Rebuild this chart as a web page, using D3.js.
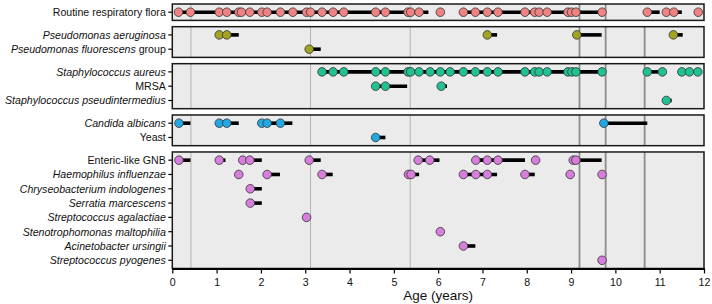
<!DOCTYPE html>
<html>
<head>
<meta charset="utf-8">
<script src="https://cdn.jsdelivr.net/npm/d3@7"></script>
<style>
  body { margin: 0; background: #fff; }
  svg { display: block; font-family: "Liberation Sans", Arial, sans-serif; }
</style>
</head>
<body>
<div id="chart"></div>
<script>
// rows grouped into panels, top to bottom
const panelRows = [
  ["Routine respiratory flora"],
  ["Pseudomonas aeruginosa", "Pseudomonas fluorescens group"],
  ["Staphylococcus aureus", "MRSA", "Staphylococcus pseudintermedius"],
  ["Candida albicans", "Yeast"],
  ["Enteric-like GNB", "Haemophilus influenzae", "Chryseobacterium indologenes",
   "Serratia marcescens", "Streptococcus agalactiae", "Stenotrophomonas maltophilia",
   "Acinetobacter ursingii", "Streptococcus pyogenes"]
];
const plainLabels = ["Routine respiratory flora", "MRSA", "Yeast", "Enteric-like GNB"];
const panelColors = ["#ef8383", "#a3a323", "#21c193", "#22a7e2", "#d77ddb"];

// positive cultures (age in years)
const positives = {
  "Routine respiratory flora": [0.14, 0.41, 1.06, 1.23, 1.50, 1.56, 1.75, 2.02, 2.14, 2.44, 2.72, 3.03, 3.12,
    3.38, 3.63, 3.87, 4.59, 4.81, 5.32, 5.38, 5.57, 6.05, 6.57, 6.84, 7.11, 7.35, 7.96, 8.18, 8.28, 8.46,
    8.93, 9.01, 9.11, 9.70, 10.72, 11.15, 11.32, 11.87],
  "Pseudomonas aeruginosa": [1.06, 1.23, 7.11, 9.13, 11.31],
  "Pseudomonas fluorescens group": [3.09],
  "Staphylococcus aureus": [3.38, 3.63, 3.87, 4.59, 4.81, 5.32, 5.38, 5.57, 5.82, 6.05, 6.27, 6.57, 6.84,
    7.11, 7.35, 7.96, 8.18, 8.28, 8.46, 8.93, 9.02, 9.11, 9.70, 10.72, 11.06, 11.50, 11.67, 11.86],
  "MRSA": [4.59, 4.81, 6.07],
  "Staphylococcus pseudintermedius": [11.15],
  "Candida albicans": [0.15, 1.06, 1.23, 2.02, 2.14, 2.44, 9.74],
  "Yeast": [4.59],
  "Enteric-like GNB": [0.15, 1.06, 1.59, 1.75, 3.09, 5.55, 5.81, 6.85, 7.11, 7.35, 8.20, 9.05, 9.11],
  "Haemophilus influenzae": [1.50, 2.14, 3.38, 5.33, 5.39, 6.57, 6.85, 7.11, 7.96, 8.98, 9.70],
  "Chryseobacterium indologenes": [1.76],
  "Serratia marcescens": [1.76],
  "Streptococcus agalactiae": [3.03],
  "Stenotrophomonas maltophilia": [6.05],
  "Acinetobacter ursingii": [6.57],
  "Streptococcus pyogenes": [9.70]
};

// colonisation periods [start, end]
const periods = {
  "Routine respiratory flora": [[0.14, 5.78], [6.57, 9.70], [10.72, 11.0], [11.15, 11.5]],
  "Pseudomonas aeruginosa": [[1.06, 1.50], [7.11, 7.33], [9.13, 9.69], [11.31, 11.52]],
  "Pseudomonas fluorescens group": [[3.09, 3.35]],
  "Staphylococcus aureus": [[3.38, 9.70], [10.72, 11.06]],
  "MRSA": [[4.59, 5.30], [6.07, 6.2]],
  "Staphylococcus pseudintermedius": [[11.15, 11.27]],
  "Candida albicans": [[0.15, 0.41], [1.06, 1.50], [2.02, 2.71], [9.74, 10.72]],
  "Yeast": [[4.59, 4.81]],
  "Enteric-like GNB": [[0.15, 0.41], [1.06, 1.20], [1.59, 2.02], [3.09, 3.35], [5.55, 6.03],
    [6.85, 7.96], [9.05, 9.69]],
  "Haemophilus influenzae": [[2.14, 2.43], [3.38, 3.62], [5.33, 5.57], [6.57, 7.33], [7.96, 8.18]],
  "Chryseobacterium indologenes": [[1.76, 2.02]],
  "Serratia marcescens": [[1.76, 2.02]],
  "Acinetobacter ursingii": [[6.57, 6.84]]
};

const lightLines = [0.42, 3.12, 5.37];
const darkLines = [9.19, 9.78];
const lateLines = [10.66]; // drawn from the second panel down
const xTicks = d3.range(0, 13);

const W = 712, H = 304;
const mLeft = 172.3, mRight = 704, mTop = 4, mBottom = 268.5;
const padU = 0.573, gapU = 0.44;
const labelSize = 10.6;

const svg = d3.select("#chart").append("svg")
  .attr("width", W).attr("height", H);

const x = d3.scaleLinear().domain([0, 12]).range([mLeft, mRight]);

// layout in row units
let u = 0;
const panels = panelRows.map((rows, p) => {
  const start = u;
  const rowPos = rows.map((r, k) => start + padU + k);
  u = start + padU * 2 + rows.length - 1;
  const panel = {p, rows, start, end: u, rowPos};
  u += gapU;
  return panel;
});
const totalU = u - gapU;
const y = d3.scaleLinear().domain([0, totalU]).range([mTop, mBottom]);

panels.forEach(pan => {
  const g = svg.append("g");
  const y0 = y(pan.start), y1 = y(pan.end);

  g.append("rect")
    .attr("x", x(0)).attr("y", y0)
    .attr("width", x(12) - x(0)).attr("height", y1 - y0)
    .attr("fill", "#ebebeb");

  lightLines.forEach(v => {
    g.append("line").attr("x1", x(v)).attr("x2", x(v)).attr("y1", y0).attr("y2", y1)
      .attr("stroke", "#b4b4b4").attr("stroke-width", 1);
  });
  darkLines.concat(pan.p > 0 ? lateLines : []).forEach(v => {
    g.append("line").attr("x1", x(v)).attr("x2", x(v)).attr("y1", y0).attr("y2", y1)
      .attr("stroke", "#8c8c8c").attr("stroke-width", 1.8);
  });

  pan.rows.forEach((name, k) => {
    const yy = y(pan.rowPos[k]);
    (periods[name] || []).forEach(([a, b]) => {
      g.append("line").attr("x1", x(a)).attr("x2", x(b)).attr("y1", yy).attr("y2", yy)
        .attr("stroke", "#000").attr("stroke-width", 3.6);
    });
    g.selectAll(null).data(positives[name]).join("circle")
      .attr("cx", d => x(d)).attr("cy", yy).attr("r", 4.3)
      .attr("fill", panelColors[pan.p])
      .attr("stroke", "#333").attr("stroke-width", 0.8);

    // y tick + label
    g.append("line").attr("x1", x(0) - 4).attr("x2", x(0)).attr("y1", yy).attr("y2", yy)
      .attr("stroke", "#000").attr("stroke-width", 1.2);
    const t = g.append("text")
      .attr("x", x(0) - 6.5).attr("y", yy).attr("dy", "0.36em")
      .attr("text-anchor", "end").attr("font-size", labelSize).attr("fill", "#111");
    if (plainLabels.includes(name)) {
      t.text(name);
    } else if (name.endsWith(" group")) {
      t.append("tspan").attr("font-style", "italic").text(name.replace(" group", ""));
      t.append("tspan").text(" group");
    } else {
      t.attr("font-style", "italic").text(name);
    }
  });

  g.append("rect")
    .attr("x", x(0)).attr("y", y0)
    .attr("width", x(12) - x(0)).attr("height", y1 - y0)
    .attr("fill", "none").attr("stroke", "#1a1a1a").attr("stroke-width", 1.5);
});

const xAxis = svg.append("g")
  .attr("transform", `translate(0,${mBottom})`)
  .call(d3.axisBottom(x).tickValues(xTicks).tickFormat(d3.format("d")).tickSize(5).tickSizeOuter(0));
xAxis.select(".domain").attr("stroke", "#000").attr("stroke-width", 2);
xAxis.selectAll(".tick line").attr("stroke", "#000").attr("stroke-width", 1.2);
xAxis.selectAll(".tick text")
  .attr("font-family", "'Liberation Sans', Arial, sans-serif")
  .attr("font-size", labelSize).attr("fill", "#111").attr("dy", "0.85em");

svg.append("text")
  .attr("x", (x(0) + x(12)) / 2).attr("y", 300)
  .attr("text-anchor", "middle").attr("font-size", 13.5).attr("fill", "#111")
  .text("Age (years)");
</script>
</body>
</html>
